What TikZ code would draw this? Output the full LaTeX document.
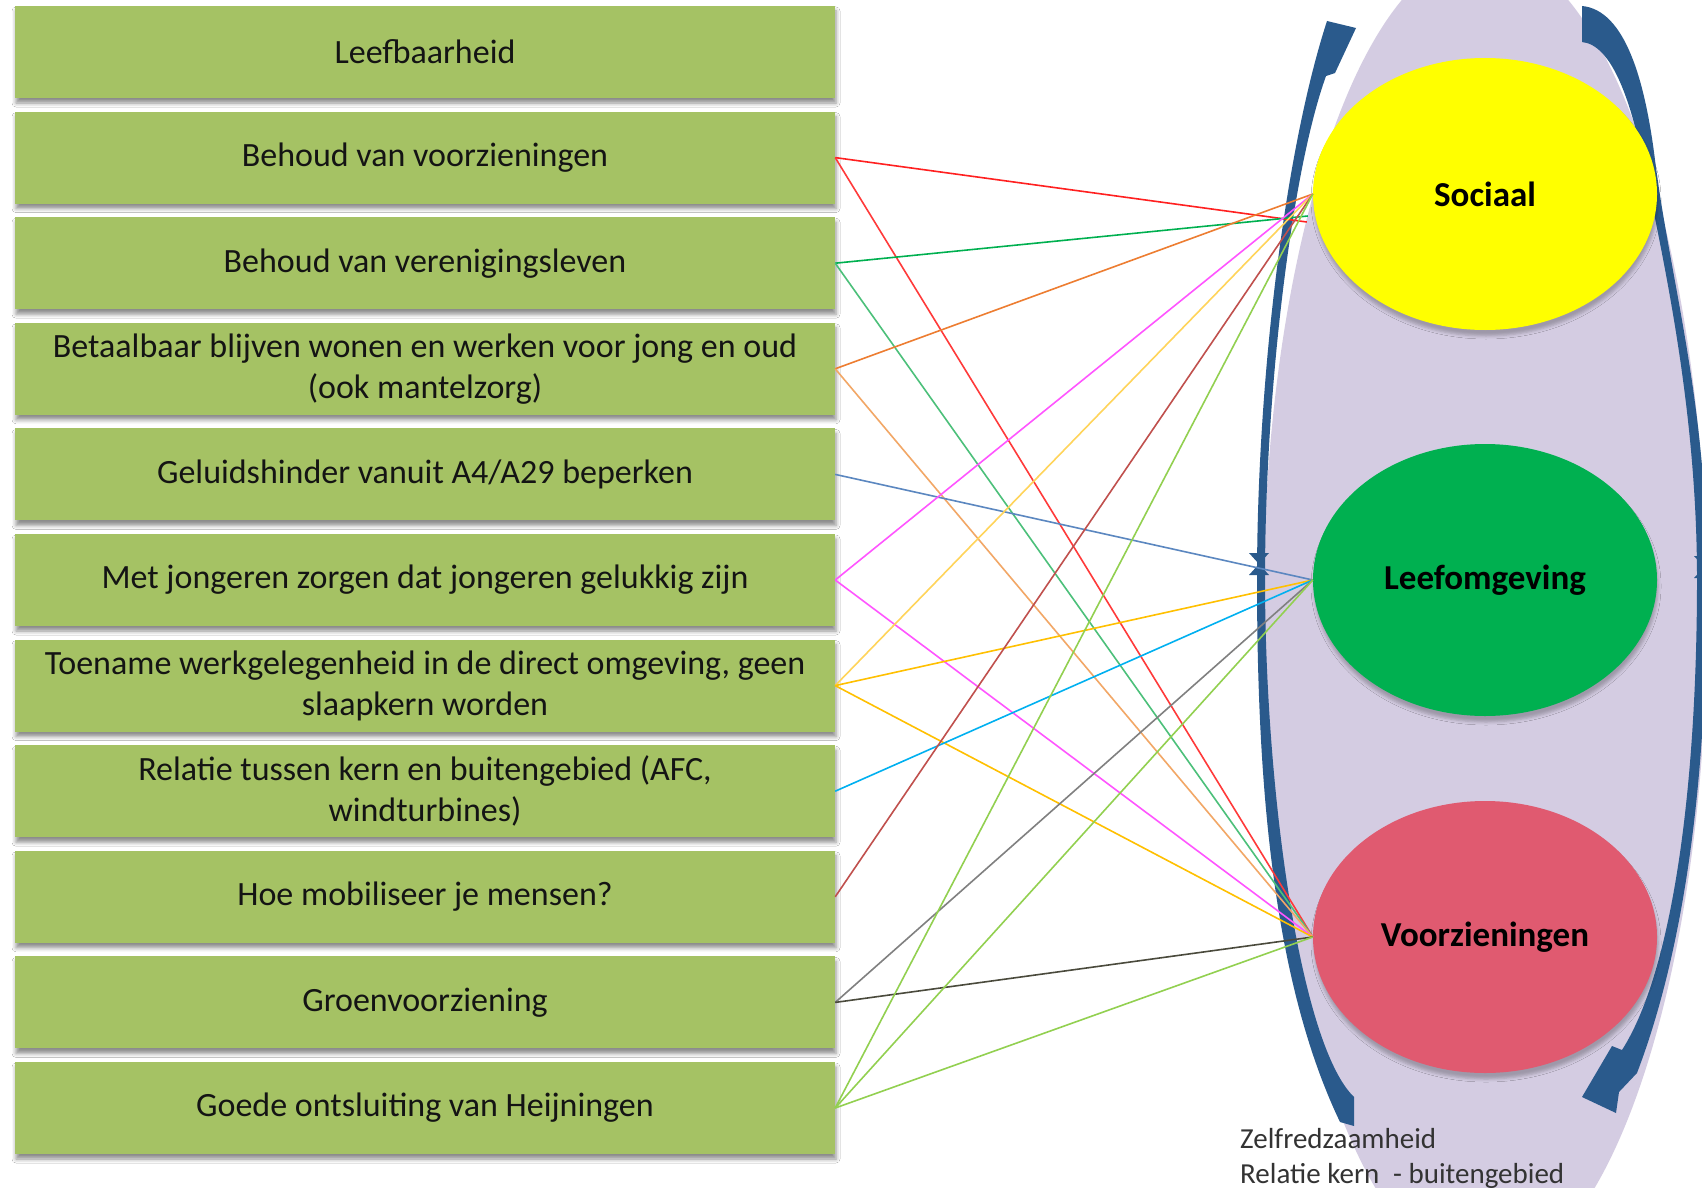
\documentclass[tikz,border=0pt]{standalone}
\usepackage{fontspec}
\setmainfont{Carlito}
\usetikzlibrary{shapes.geometric,shadows.blur,calc}
\definecolor{boxgreen}{HTML}{A5C264}
\definecolor{lilac}{HTML}{D4CCE2}
\definecolor{arcblue}{HTML}{2A5A8C}
\definecolor{socfill}{HTML}{FFFF00}
\definecolor{leeffill}{HTML}{00B050}
\definecolor{voorfill}{HTML}{E05A70}
\definecolor{lred}{HTML}{FF2020}
\definecolor{lred2}{HTML}{FF3A3A}
\definecolor{lgreen}{HTML}{00B050}
\definecolor{lgreen2}{HTML}{4CC07A}
\definecolor{lorange}{HTML}{ED7D31}
\definecolor{lorange2}{HTML}{F2A766}
\definecolor{lsteel}{HTML}{5B87C0}
\definecolor{lmagenta}{HTML}{FF55FF}
\definecolor{lgold}{HTML}{FFC000}
\definecolor{lgoldlight}{HTML}{FFD45A}
\definecolor{lcyan}{HTML}{00B0F0}
\definecolor{ldarkred}{HTML}{C0504D}
\definecolor{lgray}{HTML}{808080}
\definecolor{ldark}{HTML}{4A4A3C}
\definecolor{llime}{HTML}{92D050}
\begin{document}
\begin{tikzpicture}[x=1pt,y=-1pt,
  goal/.style={fill=boxgreen, minimum width=820pt, minimum height=92pt, inner sep=0pt,
    align=center, text=black!92, font=\fontsize{34}{41}\selectfont,
    blur shadow={shadow xshift=1pt, shadow yshift=-5pt, shadow blur radius=4pt, shadow opacity=45}},
  theme/.style={ellipse, minimum width=344pt, minimum height=272pt, inner sep=0pt,
    font=\fontsize{35}{42}\selectfont\bfseries, text=black,
    blur shadow={shadow xshift=1pt, shadow yshift=-6pt, shadow blur radius=3pt, shadow opacity=25}},
  link/.style={line width=1.6pt},
  note/.style={anchor=base west, inner sep=0pt, text=black!80, font=\fontsize{29}{35}\selectfont}]

\useasboundingbox (0,0) rectangle (1702,1188);
\fill[white] (0,0) rectangle (1702,1188);

\begin{scope}
\clip (0,0) rectangle (1702,1188);
% big lilac ellipse
\fill[lilac] (1485,613) ellipse [x radius=222pt, y radius=661pt];
% left curved arrow (head at top, tail at bottom)
\fill[arcblue] (1327,21)
  .. controls (1285,150) and (1257,380) .. (1257,579)
  .. controls (1257,780) and (1272,980) .. (1340,1122)
  -- (1354,1126) -- (1354,1097)
  .. controls (1300,1045) and (1265,790) .. (1265,579)
  .. controls (1265,390) and (1292,170) .. (1326,76)
  -- (1335,73) -- (1356,28) -- cycle;
% right curved arrow (tail at top, head at bottom)
\fill[arcblue] (1582,6)
  .. controls (1625,10) and (1645,80) .. (1655,160)
  .. controls (1670,280) and (1707,400) .. (1707,579)
  .. controls (1707,800) and (1680,960) .. (1637,1073)
  -- (1619,1092) -- (1616,1113) -- (1582,1097) -- (1612,1046) -- (1622,1050)
  .. controls (1670,975) and (1697,800) .. (1697,579)
  .. controls (1697,420) and (1668,280) .. (1645,170)
  .. controls (1631,100) and (1612,45) .. (1582,42) -- cycle;
% middle markers
\fill[arcblue] (1249,553) -- (1269,553) -- (1259,564) -- cycle;
\fill[arcblue] (1249,575) -- (1269,575) -- (1259,564) -- cycle;
\fill[arcblue] (1694,556) -- (1714,556) -- (1704,567) -- cycle;
\fill[arcblue] (1694,578) -- (1714,578) -- (1704,567) -- cycle;
\end{scope}

% theme ellipses
\node[theme, fill=socfill]  (soc)  at (1485,194) {Sociaal};
\node[theme, fill=leeffill] (leef) at (1485,580) {Leefomgeving};
\node[theme, fill=voorfill] (voor) at (1485,937) {Voorzieningen};

% goal boxes
\node[goal] (g1)  at (425,52)   {Leefbaarheid};
\node[goal] (g2)  at (425,157.6) {Behoud van voorzieningen};
\node[goal] (g3)  at (425,263.2) {Behoud van verenigingsleven};
\node[goal] (g4)  at (425,368.8) {Betaalbaar blijven wonen en werken voor jong en oud\\(ook mantelzorg)};
\node[goal] (g5)  at (425,474.4) {Geluidshinder vanuit A4/A29 beperken};
\node[goal] (g6)  at (425,580)   {Met jongeren zorgen dat jongeren gelukkig zijn};
\node[goal] (g7)  at (425,685.6) {Toename werkgelegenheid in de direct omgeving, geen\\slaapkern worden};
\node[goal] (g8)  at (425,791.2) {Relatie tussen kern en buitengebied (AFC,\\windturbines)};
\node[goal] (g9)  at (425,896.8) {Hoe mobiliseer je mensen?};
\node[goal] (g10) at (425,1002.4) {Groenvoorziening};
\node[goal] (g11) at (425,1108)  {Goede ontsluiting van Heijningen};

% slightly offset end points at Sociaal
\coordinate (socR) at ($(soc.west)+(-6,28)$);
\coordinate (socG) at ($(soc.west)+(-5,22)$);

% connectors
\draw[link, lred]       (g2.east) -- (socR);
\draw[link, lred2]      (g2.east) -- (voor.west);
\draw[link, lgreen]     (g3.east) -- (socG);
\draw[link, lgreen2]    (g3.east) -- (voor.west);
\draw[link, lorange]    (g4.east) -- (soc.west);
\draw[link, lorange2]   (g4.east) -- (voor.west);
\draw[link, lsteel]     (g5.east) -- (leef.west);
\draw[link, lmagenta]   (g6.east) -- (soc.west);
\draw[link, lmagenta]   (g6.east) -- (voor.west);
\draw[link, lgoldlight] (g7.east) -- (soc.west);
\draw[link, lgold]      (g7.east) -- (leef.west);
\draw[link, lgold]      (g7.east) -- (voor.west);
\draw[link, lcyan]      (g8.east) -- (leef.west);
\draw[link, ldarkred]   (g9.east) -- (soc.west);
\draw[link, lgray]      (g10.east) -- (leef.west);
\draw[link, ldark]      (g10.east) -- (voor.west);
\draw[link, llime]      (g11.east) -- (soc.west);
\draw[link, llime]      (g11.east) -- (leef.west);
\draw[link, llime]      (g11.east) -- (voor.west);

% caption text
\node[note] (z1) at (1240,1148) {Zelfredzaamheid};
\node[note] (z2) at (1240,1183) {Relatie kern\hspace{0.25em} - buitengebied};
\end{tikzpicture}
\end{document}
